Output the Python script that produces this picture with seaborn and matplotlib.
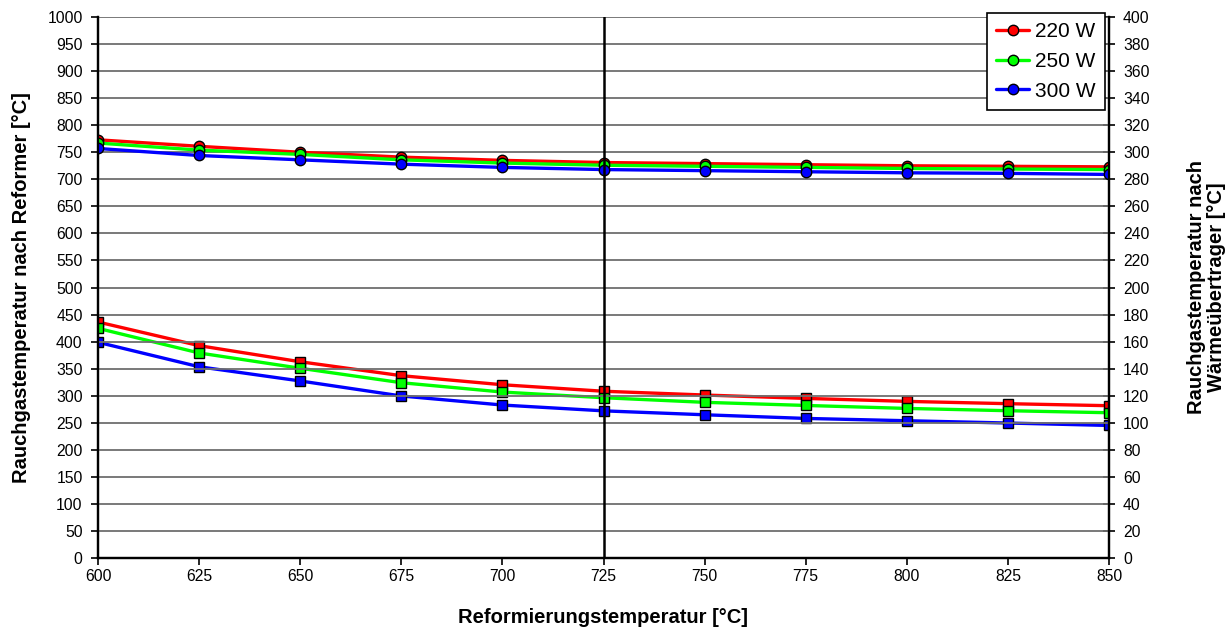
import matplotlib
matplotlib.use("Agg")
import matplotlib.pyplot as plt
import seaborn as sns
import pandas as pd
import numpy as np

# Data
reform_temp = [600, 625, 650, 675, 700, 725, 750, 775, 800, 825, 850]
series_names = ["220 W", "250 W", "300 W"]
# Rauchgastemperatur nach Reformer (left axis, circles)
reformer_220 = [773, 761, 750, 741, 735, 731, 729, 727, 725, 724, 723]
reformer_250 = [767, 754, 746, 736, 730, 726, 724, 722, 720, 719, 718]
reformer_300 = [757, 744, 736, 728, 722, 718, 716, 714, 712, 711, 709]
# Rauchgastemperatur nach Wärmeübertrager (right axis, squares)
wue_220 = [174.5, 157.0, 145.1, 134.8, 128.1, 123.3, 120.5, 118.0, 115.8, 114.1, 112.6]
wue_250 = [169.8, 151.6, 140.3, 129.6, 122.7, 118.5, 115.1, 112.8, 110.6, 108.9, 107.4]
wue_300 = [159.5, 141.4, 130.9, 119.8, 113.1, 108.8, 105.9, 103.2, 101.5, 99.8, 98.0]
marker_line_x = 725

left_ticks = list(range(0, 1001, 50))
right_ticks = list(range(0, 401, 20))
x_ticks = list(range(600, 851, 25))

colors = {"220 W": "#FF0000", "250 W": "#00FF00", "300 W": "#0000FF"}

df_ref = pd.DataFrame({
    "T": reform_temp * 3,
    "val": reformer_220 + reformer_250 + reformer_300,
    "Serie": sum([[n] * len(reform_temp) for n in series_names], []),
})
df_wue = pd.DataFrame({
    "T": reform_temp * 3,
    "val": wue_220 + wue_250 + wue_300,
    "Serie": sum([[n] * len(reform_temp) for n in series_names], []),
})

sns.set_theme(style="white")
plt.rcParams["font.family"] = ["Liberation Sans", "DejaVu Sans"]
plt.rcParams["text.color"] = "black"
plt.rcParams["axes.labelcolor"] = "black"
plt.rcParams["xtick.color"] = "black"
plt.rcParams["ytick.color"] = "black"

fig = plt.figure(figsize=(12.26, 6.32), dpi=100)
ax = fig.add_axes([98 / 1226, 1 - 558 / 632, (1109 - 98) / 1226, (558 - 17) / 632])
ax2 = ax.twinx()

# gridlines
ax.set_axisbelow(True)
ax.yaxis.grid(True, color="#6e6e6e", linewidth=1.3)
ax.xaxis.grid(False)
ax2.grid(False)

sns.lineplot(data=df_ref, x="T", y="val", hue="Serie", palette=colors, ax=ax,
             marker="o", markersize=7.5, markeredgecolor="black", markeredgewidth=1.0,
             linewidth=2.4, legend=True)
sns.lineplot(data=df_wue, x="T", y="val", hue="Serie", palette=colors, ax=ax2,
             marker="s", markersize=7.5, markeredgecolor="black", markeredgewidth=1.0,
             linewidth=2.4, legend=False)

ax.axvline(marker_line_x, color="black", linewidth=1.8, zorder=5)

ax.set_xlim(600, 850)
ax.set_ylim(0, 1000)
ax2.set_ylim(0, 400)
ax.set_xticks(x_ticks)
ax.set_yticks(left_ticks)
ax2.set_yticks(right_ticks)

for a in (ax, ax2):
    for s in a.spines.values():
        s.set_color("black")
        s.set_linewidth(1.6)
    a.spines["top"].set_visible(False)

ax.tick_params(axis="x", direction="out", length=5, width=1.2, colors="black",
               labelsize=11.3, pad=3, bottom=True)
ax.tick_params(axis="y", direction="out", length=5, width=1.2, colors="black",
               labelsize=11.3, pad=6, left=True)
ax2.tick_params(axis="y", direction="inout", length=8, width=1.2, colors="black",
                labelsize=11.3, pad=6, right=True)

ax.set_xlabel("Reformierungstemperatur [°C]", fontsize=14.5, fontweight="bold",
              labelpad=17, color="black")
ax.set_ylabel("Rauchgastemperatur nach Reformer [°C]", fontsize=14.5, fontweight="bold",
              labelpad=12, color="black")
ax2.set_ylabel("Rauchgastemperatur nach\nWärmeübertrager [°C]", fontsize=14.5,
               fontweight="bold", labelpad=27, linespacing=1.05, color="black")

handles, labels = ax.get_legend_handles_labels()
leg = ax.legend(handles, labels, loc="upper right", bbox_to_anchor=(0.9965, 1.008),
                fontsize=15, frameon=True, fancybox=False, edgecolor="black",
                framealpha=1, handlelength=1.6, handletextpad=0.3, labelspacing=0.52,
                borderpad=0.45, borderaxespad=0.0, title=None)
leg.get_frame().set_linewidth(1.2)
for t in leg.get_texts():
    t.set_color("black")
ax.set_zorder(ax2.get_zorder() + 1)
ax.patch.set_visible(False)

fig.savefig("out.png", dpi=100)
